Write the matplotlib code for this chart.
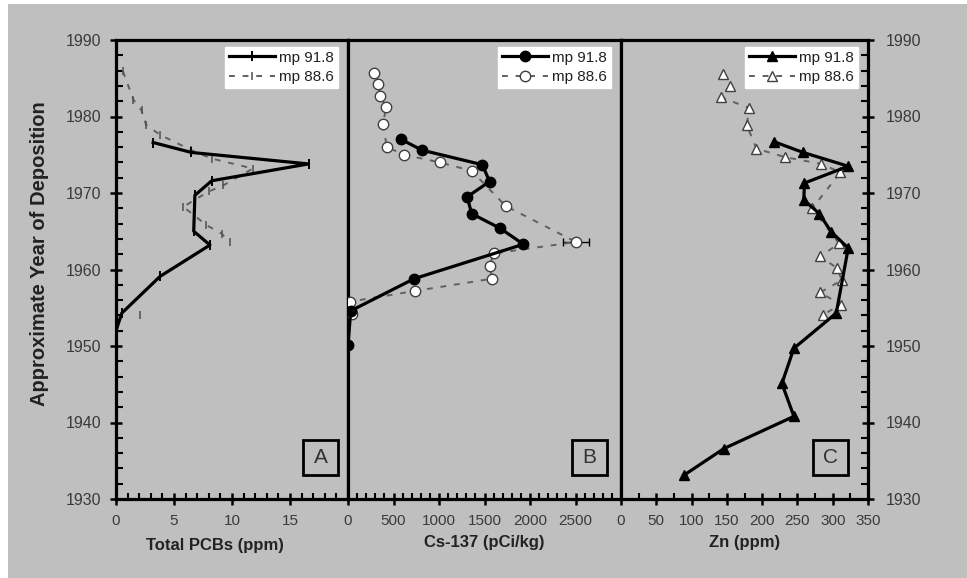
import numpy as np
import matplotlib
matplotlib.use("Agg")
import matplotlib.pyplot as plt
from matplotlib.patches import Rectangle
from matplotlib.ticker import MultipleLocator, FixedLocator

plt.rcParams['font.family'] = ['Liberation Sans', 'DejaVu Sans']

nan = np.nan
# ---------------- data ----------------
series_labels = ["mp 91.8", "mp 88.6"]

# Panel A: Total PCBs (ppm)
pcb_918_val = [3.2, 6.5, 16.6, 8.25, 6.8, 6.7, 8.1, 3.8, 0.5, 0.0, 0.0]
pcb_918_yr = [1976.6, 1975.3, 1973.8, 1971.6, 1969.7, 1965.0, 1963.2, 1959.1, 1954.3, 1952.0, 1950.0]
pcb_886_val = [0.6, 1.5, 2.2, 2.6, 3.8, 6.5, 8.25, 11.8, 9.25, 8.0, 5.8, 7.8, 9.1, 9.8, nan, 2.1]
pcb_886_yr = [1985.9, 1982.2, 1980.8, 1978.9, 1977.6, 1975.6, 1974.5, 1973.2, 1971.0, 1970.2,
              1968.2, 1965.8, 1964.7, 1963.6, 1959.0, 1954.1]

# Panel B: Cs-137 (pCi/kg)
cs_918_val = [585, 813, 1476, 1556, 1310, 1358, 1670, 1928, 728, 30, 0]
cs_918_yr = [1977.0, 1975.6, 1973.7, 1971.5, 1969.5, 1967.3, 1965.4, 1963.3, 1958.8, 1954.6, 1950.1]
cs_886_val = [290, 335, 353, 420, 383, 427, 618, 1008, 1358, 1733, 2505, 1604, 1556, 1586, 740, 22, 40]
cs_886_yr = [1985.7, 1984.2, 1982.7, 1981.2, 1979.0, 1976.0, 1975.0, 1974.0, 1972.9, 1968.3,
             1963.6, 1962.1, 1960.5, 1958.8, 1957.2, 1955.8, 1954.2]
cs_886_err = [0, 0, 0, 0, 0, 0, 0, 0, 0, 0, 140, 0, 0, 0, 0, 0, 0]

# Panel C: Zn (ppm)
zn_918_val = [217, 258, 322, 260, 259, 281, 298, 322, 305, 245, 228, 245, 146, 89]
zn_918_yr = [1976.7, 1975.3, 1973.5, 1971.3, 1969.1, 1967.3, 1964.9, 1962.8, 1954.3,
             1949.7, 1945.1, 1940.8, 1936.6, 1933.1]
zn_886_val = [145, 154, 142, 182, 178, 192, 232, 284, 311, 271, 309, 282, 306, 313, 282, 312, 286]
zn_886_yr = [1985.6, 1984.0, 1982.5, 1981.1, 1978.9, 1975.8, 1974.7, 1973.8, 1972.7, 1968.0,
             1963.4, 1961.7, 1960.2, 1958.6, 1957.0, 1955.4, 1954.1]

xlabels = ["Total PCBs (ppm)", "Cs-137 (pCi/kg)", "Zn (ppm)"]
panel_letters = ["A", "B", "C"]
a_ticks = [0, 5, 10, 15]
b_ticks = [0, 500, 1000, 1500, 2000, 2500]
c_ticks = [0, 50, 100, 150, 200, 250, 300, 350]
y_ticks = [1930, 1940, 1950, 1960, 1970, 1980, 1990]

# ---------------- figure ----------------
W, H = 967, 578
BG = '#bfbfbf'
fig = plt.figure(figsize=(W / 100, H / 100), dpi=100)
fig.patch.set_facecolor('white')
fig.patches.append(Rectangle((8 / W, 0), 1 - 8 / W, 1 - 4 / H, transform=fig.transFigure,
                             facecolor=BG, edgecolor='none', zorder=-10))

top, bot = 40, 499
panels_px = [(116, 348), (348, 621), (621, 868)]
axes = []
for (l, r) in panels_px:
    ax = fig.add_axes([l / W, 1 - bot / H, (r - l) / W, (bot - top) / H])
    ax.set_facecolor(BG)
    axes.append(ax)

axA, axB, axC = axes
TC = '#3a3a3a'
dark_kw = dict(color='black', lw=2.3, zorder=4)
gray_kw = dict(color='#606060', lw=1.4, ls=(0, (3, 4)), zorder=3)

# Panel A
axA.plot(pcb_918_val, pcb_918_yr, marker='|', ms=7, mew=1.4, mec='black', **dark_kw)
axA.plot(pcb_886_val, pcb_886_yr, marker='|', ms=6, mew=1.1, mec='#505050', **gray_kw)

# Panel B
axB.plot(cs_918_val, cs_918_yr, marker='o', ms=7.5, mfc='black', mec='black', **dark_kw)
axB.errorbar(cs_886_val[10:11], cs_886_yr[10:11], xerr=cs_886_err[10:11], fmt='none',
             ecolor='black', elinewidth=1, capsize=3, zorder=2)
axB.plot(cs_886_val, cs_886_yr, marker='o', ms=7.5, mfc='white', mec='#404040', mew=1.0, **gray_kw)

# Panel C
axC.plot(zn_918_val, zn_918_yr, marker='^', ms=7.5, mfc='black', mec='black', **dark_kw)
axC.plot(zn_886_val, zn_886_yr, marker='^', ms=7.5, mfc='white', mec='#404040', mew=1.0, **gray_kw)

xlims = [(0, 20), (0, 3000), (0, 350)]
majors = [a_ticks, b_ticks, c_ticks]
minors = [1, 100, 25]
for ax, xl, mj, mn, lab, letter, (l, r) in zip(axes, xlims, majors, minors, xlabels,
                                               panel_letters, panels_px):
    ax.set_xlim(*xl)
    ax.set_ylim(1930, 1990)
    ax.xaxis.set_major_locator(FixedLocator(mj))
    ax.xaxis.set_minor_locator(MultipleLocator(mn))
    ax.tick_params(axis='x', which='major', direction='inout', length=9, width=1.8,
                   labelsize=11, labelcolor=TC, pad=6)
    ax.tick_params(axis='x', which='minor', direction='in', length=4, width=1.5)
    for s in ax.spines.values():
        s.set_linewidth(2.3)
        s.set_color('black')
    ax.set_xlabel(lab, fontsize=12, fontweight='bold', color='#222222', labelpad=5)
    # boxed panel letter
    bw = 35
    cx = {"A": 320.5, "B": 589.5, "C": 830.5}[letter]
    cy = 457.5
    ax.add_patch(Rectangle(((cx - bw / 2 - l) / (r - l), (bot - cy - bw / 2) / (bot - top)),
                           bw / (r - l), bw / (bot - top), transform=ax.transAxes,
                           facecolor='none', edgecolor='black', lw=2.0, zorder=5))
    ax.text((cx - l) / (r - l), (bot - cy) / (bot - top), letter, transform=ax.transAxes,
            ha='center', va='center', fontsize=15, color='#333333', zorder=6)
    leg = ax.legend(series_labels, loc='upper right',
                    bbox_to_anchor=((r - 10 - l) / (r - l), (bot - 47) / (bot - top)),
                    borderaxespad=0, fontsize=11, handlelength=3.0, handletextpad=0.3,
                    frameon=True, fancybox=False, framealpha=1, borderpad=0.25,
                    labelspacing=0.35, labelcolor='#222222')
    leg.get_frame().set_facecolor('white')
    leg.get_frame().set_edgecolor('white')
    leg.set_zorder(7)

axA.xaxis.set_label_coords((215 - 116) / 232, -0.085)

# y axis: left on A, right on C, none on B
for ax in axes:
    ax.yaxis.set_major_locator(FixedLocator(y_ticks))
    ax.yaxis.set_minor_locator(MultipleLocator(2))
axA.tick_params(axis='y', which='major', direction='inout', length=9, width=1.8,
                labelsize=11.5, labelcolor=TC, pad=6)
axA.tick_params(axis='y', which='minor', direction='in', length=5, width=1.5)
axB.tick_params(axis='y', which='both', left=False, labelleft=False)
axC.tick_params(axis='y', which='both', left=False, labelleft=False, right=True, labelright=True)
axC.tick_params(axis='y', which='major', direction='inout', length=9, width=1.8,
                labelsize=11.5, labelcolor=TC, pad=8)
axC.tick_params(axis='y', which='minor', direction='in', length=5, width=1.5)

fig.text(40 / W, 1 - 254 / H, "Approximate Year of Deposition", rotation=90,
         ha='center', va='center', fontsize=14.5, fontweight='bold', color='#222222')

fig.savefig("out.png", dpi=100, facecolor=fig.get_facecolor())
